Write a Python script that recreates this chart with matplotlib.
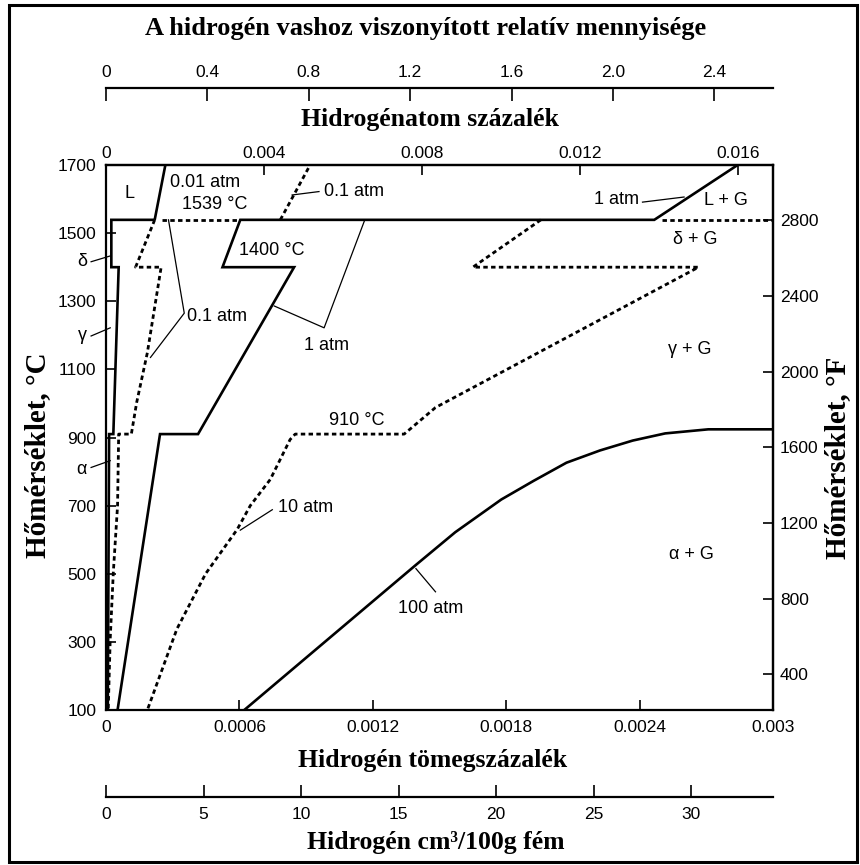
import matplotlib.pyplot as plt
from matplotlib.patches import Rectangle

SANS = ['Liberation Sans', 'DejaVu Sans']
SERIF = ['Liberation Serif', 'DejaVu Serif']

# hydrogen content (wt%) and temperature (degC) of each line
phase_w = [0.000219, 0.000024, 0.000024, 0.000057, 0.000033, 0.000014, 0.000008]
phase_t = [1539, 1539, 1400, 1400, 910, 910, 100]

liq001_w = [0.000219, 0.000267]
liq001_t = [1539, 1700]

liq01_w = [0.000784, 0.000918]
liq01_t = [1539, 1700]

sol01_w = [0.000219, 0.000133, 0.000248, 0.000186, 0.000138, 0.000114,
           0.000057, 0.000052, 0.000033, 0.000019, 0.000010]
sol01_t = [1539, 1400, 1400, 1149, 1003, 910, 910, 700, 505, 309, 100]

melt_dash_w = [0.00025, 0.0006]
melt_dash_t = [1539, 1539]

atm1_w = [0.002841, 0.002466, 0.000604, 0.000524, 0.000846, 0.000414, 0.000243, 0.000052]
atm1_t = [1700, 1539, 1539, 1400, 1400, 910, 910, 100]

melt10_w = [0.0025, 0.003]
melt10_t = [1539, 1539]

atm10_w = [0.001956, 0.00165, 0.002665, 0.001482, 0.001341, 0.000851, 0.000828,
           0.000739, 0.000649, 0.00059, 0.000448, 0.000319, 0.000186]
atm10_t = [1539, 1400, 1400, 988, 910, 910, 894, 777, 700, 630, 500, 338, 100]

atm100_w = [0.000622, 0.001394, 0.001571, 0.001778, 0.001924, 0.002071,
            0.002222, 0.002369, 0.002515, 0.002709, 0.003]
atm100_t = [100, 526, 622, 718, 773, 826, 862, 891, 912, 924, 924]

# leader lines of the labels
leaders = [
    ([0.000958, 0.000837], [1622, 1612]),
    ([0.000281, 0.000352, 0.000200], [1539, 1265, 1135]),
    ([0.001164, 0.000981, 0.000757], [1539, 1222, 1286]),
    ([0.002413, 0.002600], [1591, 1606]),
    ([0.000604, 0.000748], [628, 688]),
    ([0.001394, 0.001482], [515, 447]),
    ([-0.000067, 0.000019], [1416, 1433]),
    ([-0.000067, 0.000019], [1198, 1222]),
    ([-0.000067, 0.000019], [812, 832]),
]

labels = [
    ('L', 0.000105, 1616, 'center'),
    ('0.01 atm', 0.00029, 1650, 'left'),
    ('1539 °C', 0.000343, 1584, 'left'),
    ('0.1 atm', 0.00098, 1622, 'left'),
    ('1400 °C', 0.0006, 1448, 'left'),
    ('0.1 atm', 0.000365, 1255, 'left'),
    ('1 atm', 0.000994, 1170, 'center'),
    ('910 °C', 0.001128, 950, 'center'),
    ('10 atm', 0.000773, 694, 'left'),
    ('100 atm', 0.00146, 397, 'center'),
    ('1 atm', 0.002396, 1600, 'right'),
    ('L + G', 0.002788, 1597, 'center'),
    ('δ + G', 0.002649, 1480, 'center'),
    ('γ + G', 0.002625, 1158, 'center'),
    ('α + G', 0.002633, 556, 'center'),
    ('δ', -0.000085, 1416, 'right'),
    ('γ', -0.000085, 1198, 'right'),
    ('α', -0.000085, 806, 'right'),
]

wt_ticks = [0, 0.0006, 0.0012, 0.0018, 0.0024, 0.003]
wt_labels = ['0', '0.0006', '0.0012', '0.0018', '0.0024', '0.003']
c_ticks = [100, 300, 500, 700, 900, 1100, 1300, 1500, 1700]
f_ticks = [400, 800, 1200, 1600, 2000, 2400, 2800]
at_ticks = [0, 0.004, 0.008, 0.012, 0.016]
at_labels = ['0', '0.004', '0.008', '0.012', '0.016']
rel_ticks = [0, 0.4, 0.8, 1.2, 1.6, 2.0, 2.4]
rel_labels = ['0', '0.4', '0.8', '1.2', '1.6', '2.0', '2.4']
cm3_ticks = [0, 5, 10, 15, 20, 25, 30]

AT_PER_WT = 5.63
REL_PER_WT = 877.0
CM3_PER_WT = 11400.0

SOLID = dict(color='black', lw=1.9, solid_capstyle='butt', solid_joinstyle='miter')
DASH = dict(color='black', lw=2.0, ls=(0, (1.6, 1.2)))
TICK_FS = 12.5


def c_to_f(c):
    return c * 1.8 + 32


def f_to_c(f):
    return (f - 32) / 1.8


def style_axis(a, length=7):
    a.tick_params(direction='in', length=length, width=1.2, labelsize=TICK_FS, pad=5)
    for lab in a.get_xticklabels() + a.get_yticklabels():
        lab.set_family(SANS)
    for sp in a.spines.values():
        sp.set_linewidth(1.6)


fig = plt.figure(figsize=(8.6, 8.65), dpi=100)
ax = fig.add_axes([106 / 860, 155 / 865, 667 / 860, 545 / 865])
ax.set_xlim(0, 0.003)
ax.set_ylim(100, 1700)

ax.plot(phase_w, phase_t, **SOLID)
ax.plot(liq001_w, liq001_t, **SOLID)
ax.plot(atm1_w, atm1_t, **SOLID)
ax.plot(atm100_w, atm100_t, **SOLID)
ax.plot(liq01_w, liq01_t, **DASH)
ax.plot(sol01_w, sol01_t, **DASH)
ax.plot(melt_dash_w, melt_dash_t, **DASH)
ax.plot(melt10_w, melt10_t, **DASH)
ax.plot(atm10_w, atm10_t, **DASH)

for lw_, lt_ in leaders:
    ax.plot(lw_, lt_, color='black', lw=0.9, clip_on=False)

for txt, x, y, ha in labels:
    ax.text(x, y, txt, ha=ha, va='center', fontsize=13, family=SANS)

ax.set_xticks(wt_ticks, labels=wt_labels)
ax.set_yticks(c_ticks)
style_axis(ax)
ax.tick_params(axis='x', pad=7)
ax.tick_params(axis='y', pad=7)

# atom percent on top of the frame
top = ax.secondary_xaxis('top', functions=(lambda w: w * AT_PER_WT, lambda a: a / AT_PER_WT))
top.set_xticks(at_ticks, labels=at_labels)
style_axis(top)
top.tick_params(pad=3)

# relative amount scale above
rel = ax.secondary_xaxis(1 + 77 / 545, functions=(lambda w: w * REL_PER_WT, lambda r: r / REL_PER_WT))
rel.set_xticks(rel_ticks, labels=rel_labels)
style_axis(rel, length=9)
rel.tick_params(pad=6)

# cm3/100 g scale below
cm3 = ax.secondary_xaxis(-87 / 545, functions=(lambda w: w * CM3_PER_WT, lambda v: v / CM3_PER_WT))
cm3.set_xticks(cm3_ticks, labels=[str(v) for v in cm3_ticks])
style_axis(cm3, length=9)
cm3.tick_params(pad=7)

# Fahrenheit on the right
rf = ax.secondary_yaxis('right', functions=(c_to_f, f_to_c))
rf.set_yticks(f_ticks, labels=[str(v) for v in f_ticks])
style_axis(rf)

title_kw = dict(ha='center', va='center', fontweight='bold', family=SERIF)
fig.text(426 / 860, 1 - 28 / 865, 'A hidrogén vashoz viszonyított relatív mennyisége',
         fontsize=19, **title_kw)
fig.text(430 / 860, 1 - 120 / 865, 'Hidrogénatom százalék', fontsize=18.5, **title_kw)
fig.text(433 / 860, 1 - 760 / 865, 'Hidrogén tömegszázalék', fontsize=18.5, **title_kw)
fig.text(436 / 860, 1 - 842 / 865, 'Hidrogén cm³/100g fém', fontsize=18.5, **title_kw)
fig.text(38 / 860, 1 - 455 / 865, 'Hőmérséklet, °C', rotation=90, fontsize=21, **title_kw)
fig.text(838 / 860, 1 - 458 / 865, 'Hőmérséklet, °F', rotation=90, fontsize=21, **title_kw)

fig.add_artist(Rectangle((9 / 860, 3 / 865), 848 / 860, 857 / 865, transform=fig.transFigure,
                         fill=False, lw=2.2, ec='black'))

fig.savefig('out.png', dpi=100)
